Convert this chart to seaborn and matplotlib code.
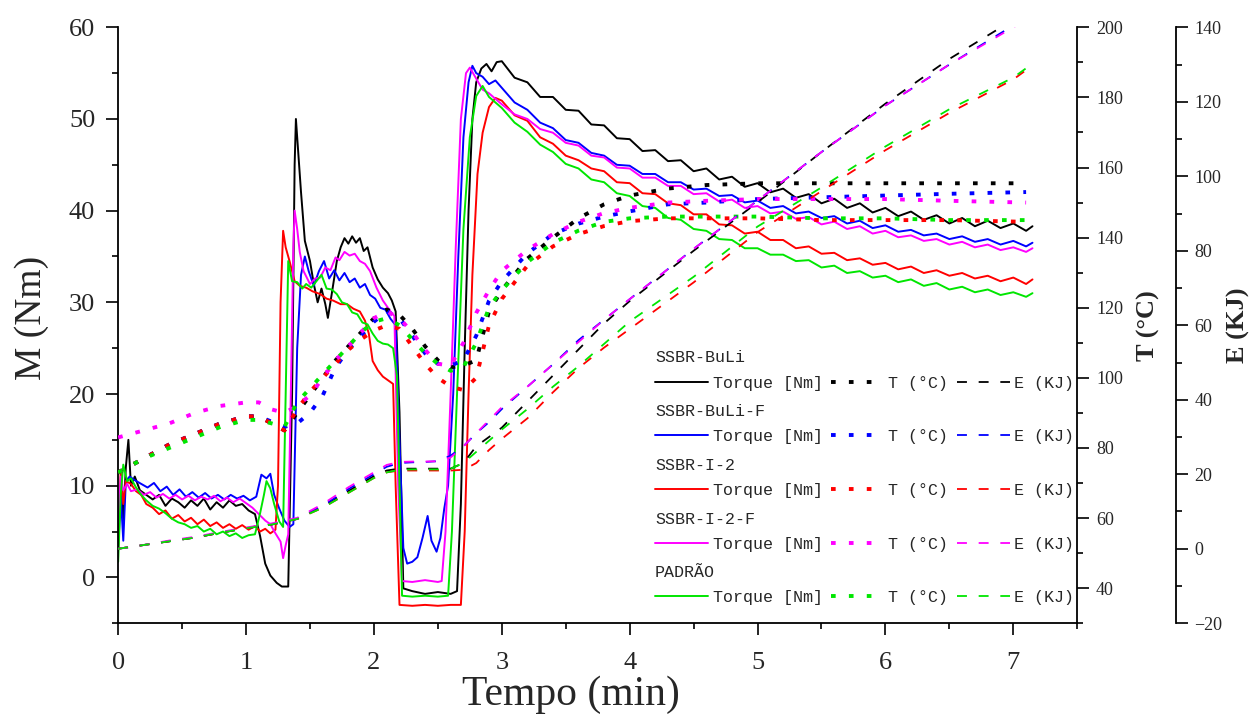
import matplotlib.pyplot as plt
import seaborn as sns
from matplotlib.lines import Line2D
from matplotlib.ticker import MultipleLocator

# Torque (Nm) - first part of each run, own time points
t_early_buli = [0.00, 0.02, 0.04, 0.06, 0.08, 0.10, 0.13, 0.17, 0.22, 0.27, 0.32, 0.37, 0.42, 0.47, 0.52, 0.57,
                0.62, 0.67, 0.72, 0.77, 0.82, 0.87, 0.92, 0.97, 1.02, 1.07, 1.11, 1.15, 1.19, 1.24, 1.28, 1.33,
                1.36, 1.38, 1.39, 1.41, 1.43, 1.46, 1.50, 1.53, 1.56, 1.59, 1.62, 1.64, 1.67, 1.71, 1.74, 1.77,
                1.80, 1.83, 1.86, 1.89, 1.92, 1.95, 1.99, 2.03, 2.07, 2.11, 2.14, 2.17, 2.20, 2.23, 2.30, 2.40,
                2.50, 2.60, 2.65, 2.68, 2.71, 2.74, 2.77, 2.80, 2.84, 2.88, 2.92, 2.96]
m_early_buli = [4, 10, 6, 12, 15, 10, 11, 9.5, 9, 8.5, 9, 7.8, 8.6, 8.2, 7.6, 8.4,
                7.8, 8.6, 7.4, 8.2, 7.6, 8.4, 7.8, 8.0, 7.3, 6.9, 4.5, 1.5, 0.2, -0.6, -1.0, -1.0,
                20, 45, 50, 46, 42, 36.7, 34.5, 32, 30, 31.5, 29.8, 28.3, 30.9, 34.5, 36.0, 37,
                36.4, 37.2, 36.5, 37, 35.6, 36, 33.8, 32.5, 31.6, 31, 30.2, 29, 18, -1.2, -1.5, -1.8,
                -1.6, -1.8, -1.5, 8, 25, 40, 50, 54, 55.5, 56, 55.2, 56.2]

t_early_bulif = [0.00, 0.02, 0.04, 0.06, 0.09, 0.13, 0.18, 0.23, 0.28, 0.33, 0.38, 0.43, 0.48, 0.53, 0.58,
                 0.63, 0.68, 0.73, 0.78, 0.83, 0.88, 0.93, 0.98, 1.03, 1.08, 1.12, 1.16, 1.19, 1.22, 1.26,
                 1.30, 1.34, 1.37, 1.40, 1.43, 1.46, 1.49, 1.53, 1.57, 1.61, 1.65, 1.69, 1.73, 1.77, 1.81,
                 1.85, 1.89, 1.93, 1.97, 2.01, 2.05, 2.09, 2.13, 2.17, 2.20, 2.23, 2.26, 2.30, 2.34, 2.38,
                 2.42, 2.45, 2.49, 2.52, 2.55, 2.58, 2.62, 2.66, 2.70, 2.74, 2.77, 2.80, 2.85, 2.90, 2.95]
m_early_bulif = [3, 9, 4, 10.5, 11, 10.6, 10.2, 9.8, 10.3, 9.4, 9.9, 9.0, 9.6, 8.8, 9.3,
                 8.7, 9.2, 8.6, 9.0, 8.5, 9.0, 8.6, 8.9, 8.4, 8.8, 11.2, 10.8, 11.3, 9.0, 7.5,
                 6.2, 5.5, 5.8, 25, 33, 35, 33.4, 31.8, 33.4, 34.5, 32.6, 33.5, 32.4, 33.2, 32.2,
                 32.6, 31.6, 32, 30.8, 30.4, 29.4, 29.2, 28.2, 27.5, 15, 3.2, 1.5, 1.7, 2.2, 4.3,
                 6.7, 4.0, 2.8, 4.3, 7.5, 10, 20, 35, 48, 54, 55.8, 55, 54.6, 53.8, 54.2]

t_early_i2 = [0.00, 0.02, 0.04, 0.06, 0.10, 0.14, 0.18, 0.22, 0.27, 0.32, 0.37, 0.42, 0.47, 0.52, 0.57, 0.62,
              0.67, 0.72, 0.77, 0.82, 0.87, 0.92, 0.97, 1.02, 1.07, 1.11, 1.15, 1.19, 1.23, 1.25, 1.27, 1.29,
              1.31, 1.34, 1.38, 1.42, 1.47, 1.52, 1.58, 1.63, 1.68, 1.74, 1.79, 1.84, 1.89, 1.93, 1.96, 1.99,
              2.03, 2.07, 2.11, 2.15, 2.17, 2.20, 2.30, 2.40, 2.50, 2.60, 2.68, 2.71, 2.74, 2.77, 2.81, 2.85,
              2.90, 2.95]
m_early_i2 = [3, 11.6, 8, 10.5, 10.2, 9.4, 9.0, 8.0, 7.6, 6.9, 7.3, 6.4, 6.8, 6.1, 6.5, 5.8,
              6.3, 5.6, 6.0, 5.4, 5.8, 5.3, 5.7, 5.2, 5.6, 5.0, 5.3, 4.8, 5.2, 10, 30, 37.8,
              36, 34.5, 32.3, 31.8, 31.6, 31.2, 30.9, 30.4, 30.2, 29.8, 29.8, 29.3, 29, 28, 26.6, 23.6,
              22.6, 21.9, 21.5, 21.1, 10, -3, -3.1, -3.0, -3.1, -3.0, -3, 5, 20, 33, 44, 48.5,
              51.3, 52.3]

t_early_i2f = [0.00, 0.02, 0.04, 0.07, 0.10, 0.15, 0.20, 0.25, 0.30, 0.35, 0.40, 0.45, 0.50, 0.55, 0.60, 0.65,
               0.70, 0.75, 0.80, 0.85, 0.90, 0.95, 1.00, 1.05, 1.10, 1.15, 1.19, 1.23, 1.27, 1.29, 1.31, 1.33,
               1.35, 1.37, 1.38, 1.40, 1.42, 1.45, 1.50, 1.54, 1.58, 1.62, 1.66, 1.70, 1.73, 1.77, 1.81, 1.85,
               1.89, 1.93, 1.97, 2.02, 2.07, 2.13, 2.16, 2.19, 2.22, 2.30, 2.40, 2.50, 2.53, 2.56, 2.60, 2.64,
               2.68, 2.72, 2.75, 2.80, 2.85, 2.90, 2.95]
m_early_i2f = [6, 11, 9.5, 10.2, 9.4, 9.6, 9.0, 9.3, 8.7, 9.1, 8.6, 9.0, 8.5, 8.9, 8.4, 8.8,
               8.5, 8.9, 8.3, 8.7, 8.2, 8.6, 8.1, 7.6, 6.9, 6.2, 5.8, 4.8, 3.9, 2.1, 3.5, 4.7,
               20, 36, 40, 38, 35.5, 33.4, 32, 32.6, 32.7, 33.8, 33.5, 34.9, 34.6, 35.5, 35.1, 35.3,
               34.5, 34.2, 33.4, 31.6, 30.2, 29, 28.5, 10, -0.4, -0.5, -0.3, -0.5, -0.4, 5, 20, 36,
               50, 55, 55.6, 54.4, 53.2, 52.8, 52.2]

t_early_padrao = [0.00, 0.02, 0.04, 0.07, 0.10, 0.14, 0.18, 0.22, 0.27, 0.32, 0.37, 0.42, 0.47, 0.52, 0.57,
                  0.62, 0.67, 0.72, 0.77, 0.82, 0.87, 0.92, 0.97, 1.02, 1.07, 1.11, 1.14, 1.16, 1.19, 1.22,
                  1.26, 1.29, 1.31, 1.33, 1.36, 1.40, 1.44, 1.47, 1.51, 1.55, 1.59, 1.63, 1.67, 1.71, 1.75,
                  1.79, 1.83, 1.87, 1.91, 1.95, 1.99, 2.03, 2.07, 2.11, 2.15, 2.18, 2.20, 2.22, 2.30, 2.40,
                  2.50, 2.58, 2.61, 2.65, 2.70, 2.75, 2.80, 2.85, 2.90, 2.95]
m_early_padrao = [1.7, 9, 12.3, 10.5, 10.8, 9.8, 9.0, 8.4, 7.8, 7.5, 7.0, 6.4, 6.0, 5.8, 5.4,
                  5.6, 5.0, 5.3, 4.7, 5.0, 4.5, 4.8, 4.3, 4.6, 4.7, 7, 9, 10.5, 9.7, 8.0,
                  6.1, 5.5, 20, 34.5, 32.3, 32.2, 31.5, 32, 31.6, 32.3, 33, 31.5, 31.4, 30.9, 30.0,
                  29.8, 28.9, 28.7, 27.8, 27.6, 26.6, 25.8, 25.5, 25.4, 25, 22, 10, -2, -2.1, -2.0,
                  -2.1, -2, 5, 20, 38, 48, 52.5, 53.6, 52.4, 51.8]

# Torque (Nm) - decay part, shared time points (min)
t_decay = [3.0, 3.1, 3.2, 3.3, 3.4, 3.5, 3.6, 3.7, 3.8, 3.9, 4.0, 4.1, 4.2, 4.3, 4.4, 4.5, 4.6, 4.7, 4.8,
           4.9, 5.0, 5.1, 5.2, 5.3, 5.4, 5.5, 5.6, 5.7, 5.8, 5.9, 6.0, 6.1, 6.2, 6.3, 6.4, 6.5, 6.6, 6.7,
           6.8, 6.9, 7.0, 7.1, 7.15]
m_decay_buli = [56.3, 54.5, 54.0, 52.4, 52.4, 51.0, 50.9, 49.4, 49.3, 47.9, 47.8, 46.5, 46.6, 45.4, 45.5,
                44.3, 44.6, 43.4, 43.7, 42.6, 43.0, 42.0, 42.4, 41.4, 41.8, 40.8, 41.3, 40.3, 40.8, 39.8,
                40.3, 39.4, 39.9, 39.0, 39.5, 38.6, 39.2, 38.3, 38.9, 38.1, 38.6, 37.8, 38.3]
m_decay_bulif = [53.4, 51.8, 51.0, 49.6, 49.0, 47.7, 47.4, 46.3, 46.0, 45.0, 44.9, 44.0, 44.0, 43.1, 43.1,
                 42.3, 42.4, 41.6, 41.7, 40.9, 41.1, 40.3, 40.5, 39.7, 39.9, 39.2, 39.4, 38.6, 38.9, 38.1,
                 38.4, 37.7, 37.9, 37.3, 37.5, 36.9, 37.2, 36.6, 36.9, 36.3, 36.7, 36.1, 36.5]
m_decay_i2 = [52.0, 50.4, 49.8, 48.0, 47.3, 46.0, 45.5, 44.6, 44.3, 43.1, 43.0, 41.9, 41.8, 40.8, 40.6,
              39.6, 39.6, 38.5, 38.4, 37.5, 37.7, 36.8, 36.8, 35.9, 36.1, 35.3, 35.4, 34.6, 34.8, 34.1,
              34.3, 33.6, 33.9, 33.2, 33.5, 32.9, 33.2, 32.6, 32.9, 32.3, 32.7, 32.0, 32.5]
m_decay_i2f = [51.6, 50.5, 50.0, 48.9, 48.5, 47.4, 47.1, 46.0, 45.8, 44.7, 44.6, 43.6, 43.6, 42.7, 42.7,
               41.8, 41.9, 41.0, 41.2, 40.3, 40.5, 39.7, 39.9, 39.1, 39.3, 38.5, 38.8, 38.0, 38.3, 37.5,
               37.8, 37.1, 37.3, 36.7, 36.9, 36.3, 36.6, 36.0, 36.3, 35.7, 36.0, 35.5, 35.9]
m_decay_padrao = [51.2, 49.6, 48.6, 47.2, 46.4, 45.1, 44.6, 43.4, 43.1, 41.9, 41.6, 40.5, 40.3, 39.2, 39.0,
                  38.0, 37.8, 36.9, 36.8, 35.9, 35.9, 35.2, 35.2, 34.5, 34.6, 33.8, 34.0, 33.2, 33.4, 32.7,
                  32.9, 32.2, 32.5, 31.8, 32.1, 31.4, 31.7, 31.1, 31.4, 30.8, 31.1, 30.6, 31.0]

# Temperature (°C)
t_temp = [0.0, 0.2, 0.4, 0.6, 0.8, 1.0, 1.1, 1.2, 1.3, 1.4, 1.5, 1.6, 1.7, 1.8, 1.9, 2.0, 2.1, 2.2, 2.3,
          2.4, 2.5, 2.6, 2.7, 2.8, 2.9, 3.0, 3.2, 3.4, 3.6, 3.8, 4.0, 4.3, 4.6, 5.0, 5.5, 6.0, 6.5, 7.1]
temp_buli = [73, 77, 81, 84, 87, 89, 89, 87, 85, 90, 95, 100, 105, 109, 113, 117, 119.5, 118, 114,
             109, 105, 103, 103.5, 105, 119, 125, 134, 140, 145.5, 149.5, 152, 154, 155, 155.5, 155.5,
             155.5, 155.5, 155.5]
temp_bulif = [73, 77, 81, 84, 87, 89, 89, 87.5, 86, 87, 90, 95, 103, 108, 112, 116, 119, 117, 112,
              107, 104, 103.5, 105, 112, 122, 127.5, 135.5, 141, 144, 146, 147.5, 149.5, 150, 151, 151.5,
              152, 152.5, 153]
temp_i2 = [73, 77, 81, 84, 87, 89, 89, 87, 85, 91, 96, 100, 104, 108, 111, 113.5, 115, 114, 109,
           104, 100, 97.5, 96.5, 100, 115, 122.5, 132, 137.5, 141, 143.3, 144.7, 145.5, 145.5, 145.5, 145,
           145, 145, 144.5]
temp_i2f = [83, 85, 87, 90, 92, 93, 93, 91, 90, 92, 95, 100, 105, 109, 113, 117, 119, 117, 113,
            108, 104, 103.5, 110, 118.5, 125, 130.5, 136.5, 141, 144.5, 147, 148.5, 150, 150.5, 151, 151,
            151, 150.5, 150]
temp_padrao = [73, 77, 80, 83, 86, 88, 88, 87, 86, 93, 97, 101, 105, 109, 113, 116, 117, 115, 111,
               107, 104, 102, 103, 110, 120, 125, 133, 138.5, 142, 144.5, 145.5, 146, 146, 146, 145.5,
               145.5, 145, 145]

# Energy (KJ)
t_energy = [0.0, 0.2, 0.4, 0.6, 0.8, 1.0, 1.2, 1.4, 1.6, 1.8, 2.0, 2.1, 2.2, 2.3, 2.4, 2.5, 2.6, 2.7,
            2.8, 2.9, 3.0, 3.2, 3.4, 3.6, 3.8, 4.0, 4.5, 5.0, 5.5, 6.0, 6.5, 7.0, 7.1]
energy_buli = [0, 1, 2, 3, 4.3, 5.5, 6.5, 8, 11.5, 15.5, 19.5, 21, 21.5, 21.5, 21.5, 21.5, 21.5, 23,
               27.5, 30, 32.5, 39.5, 46.5, 53.5, 60.5, 66.5, 80, 93, 106.5, 119.5, 131.5, 142, 144]
energy_bulif = [0, 1, 2, 3, 4.3, 5.5, 6.5, 8, 11.5, 16, 20, 22, 23, 23.2, 23.3, 23.5, 25, 27.5,
                31, 34, 37.5, 43.5, 49.5, 56, 61.5, 67, 80.5, 93.5, 106.5, 119, 130, 140.5, 142.5]
energy_i2 = [0, 1, 2, 3, 4.3, 5.5, 6.5, 8, 11, 15, 19, 20.5, 21, 21, 21, 21, 21, 21.2,
             23, 26.5, 29.5, 35, 42, 48.5, 54, 59, 71.5, 85, 96, 107, 117, 126, 128.5]
energy_i2f = [0, 1, 2.2, 3.2, 4.5, 5.7, 6.8, 8.3, 12, 16.5, 20.5, 22.5, 23.3, 23.4, 23.4, 23.5, 24.5, 27.5,
              31, 34.5, 38, 43.5, 49.5, 55.5, 61.5, 67, 80.5, 93.5, 106.5, 119, 130, 140, 142]
energy_padrao = [0, 1, 2, 3, 4.3, 5.5, 6.5, 8, 11, 15, 19, 20.5, 21.2, 21.3, 21.3, 21.3, 21.5, 23,
                 26, 29, 32, 37.5, 43.5, 49, 55, 61, 73, 86.5, 97, 108, 118, 126.5, 129]

samples = ['SSBR-BuLi', 'SSBR-BuLi-F', 'SSBR-I-2', 'SSBR-I-2-F', 'PADRÃO']
legend_labels = ['Torque [Nm]', 'T (°C)', 'E (KJ)']
colors = ['#000000', '#0000ff', '#ff0000', '#ff00ff', '#00e600']
t_early = [t_early_buli, t_early_bulif, t_early_i2, t_early_i2f, t_early_padrao]
m_early = [m_early_buli, m_early_bulif, m_early_i2, m_early_i2f, m_early_padrao]
m_decay = [m_decay_buli, m_decay_bulif, m_decay_i2, m_decay_i2f, m_decay_padrao]
temps = [temp_buli, temp_bulif, temp_i2, temp_i2f, temp_padrao]
energies = [energy_buli, energy_bulif, energy_i2, energy_i2f, energy_padrao]

DOT = (0, (1.2, 3.4))
DASH = (0, (5.5, 6.5))

sns.set_style("ticks")
plt.rcParams['font.family'] = ['Liberation Serif', 'DejaVu Serif']

fig, ax = plt.subplots(figsize=(12.57, 7.18), dpi=100)
fig.subplots_adjust(left=0.094, right=0.857, top=0.962, bottom=0.132)
ax_t = ax.twinx()
ax_e = ax.twinx()
ax_e.spines['right'].set_position(('outward', 71))

for i in range(len(samples)):
    c = colors[i]
    sns.lineplot(x=t_early[i] + t_decay, y=m_early[i] + m_decay[i], ax=ax, color=c,
                 lw=1.4, estimator=None, sort=False, legend=False)
    sns.lineplot(x=t_temp, y=temps[i], ax=ax_t, color=c, lw=2.8, linestyle=DOT,
                 estimator=None, sort=False, legend=False)
    sns.lineplot(x=t_energy, y=energies[i], ax=ax_e, color=c, lw=1.3, linestyle=DASH,
                 estimator=None, sort=False, legend=False)

# left / bottom axis
ax.set_xlim(0, 7.5)
ax.set_ylim(-5, 60)
ax.xaxis.set_major_locator(MultipleLocator(1))
ax.xaxis.set_minor_locator(MultipleLocator(0.5))
ax.yaxis.set_major_locator(MultipleLocator(10))
ax.yaxis.set_minor_locator(MultipleLocator(5))
ax.tick_params(which='major', direction='out', length=8.5, width=1.2, labelsize=19, color='black')
ax.tick_params(which='minor', direction='out', length=4.5, width=1.2, color='black')
ax.tick_params(axis='x', which='major', pad=12)
ax.tick_params(axis='y', which='major', pad=8)
ax.set_xlabel('Tempo (min)', fontsize=30)
ax.set_ylabel('M (Nm)', fontsize=27)
ax.xaxis.set_label_coords(0.472, -0.087)
ax.yaxis.set_label_coords(-0.072, 0.512)

ax_t.set_ylim(30, 200)
ax_t.yaxis.set_major_locator(MultipleLocator(20))
ax_t.yaxis.set_minor_locator(MultipleLocator(10))
ax_t.set_ylabel('T (°C)', fontsize=19, fontweight='bold', labelpad=10)

ax_e.set_ylim(-20, 140)
ax_e.yaxis.set_major_locator(MultipleLocator(20))
ax_e.yaxis.set_minor_locator(MultipleLocator(10))
ax_e.set_ylabel('E (KJ)', fontsize=19, fontweight='bold', labelpad=3)

for a in (ax_t, ax_e):
    a.tick_params(which='major', direction='out', length=8.5, width=1.2, labelsize=13,
                  color='black', pad=5)
    a.tick_params(which='minor', direction='out', length=4.5, width=1.2, color='black')

for a in (ax, ax_t, ax_e):
    a.grid(False)
    for side, sp in a.spines.items():
        sp.set_linewidth(1.3)
        sp.set_color('black')
ax.spines['top'].set_visible(False)
ax.spines['right'].set_visible(False)
for a in (ax_t, ax_e):
    for side in ('top', 'left', 'bottom'):
        a.spines[side].set_visible(False)

# legend: header text + one row of three handles per sample
mono = {'family': 'Liberation Mono', 'size': 12}
for i, name in enumerate(samples):
    c = colors[i]
    y_head = 358 + 53.7 * i
    y_row = 383 + 53.7 * i
    fig.text(655 / 1257, 1 - y_head / 718, name, ha='left', va='center', fontdict=mono)
    handles = [Line2D([], [], color=c, lw=1.4),
               Line2D([], [], color=c, lw=2.8, linestyle=DOT),
               Line2D([], [], color=c, lw=1.3, linestyle=DASH)]
    leg = ax_e.legend(handles, legend_labels, ncol=3, loc='center left',
                      bbox_to_anchor=(655 / 1257, 1 - y_row / 718),
                      bbox_transform=fig.transFigure, frameon=False, prop=mono,
                      handlelength=3.2, handletextpad=0.25, columnspacing=0.5,
                      borderpad=0, borderaxespad=0)
    if i < len(samples) - 1:
        ax_e.add_artist(leg)

fig.savefig('out.png', dpi=100)
